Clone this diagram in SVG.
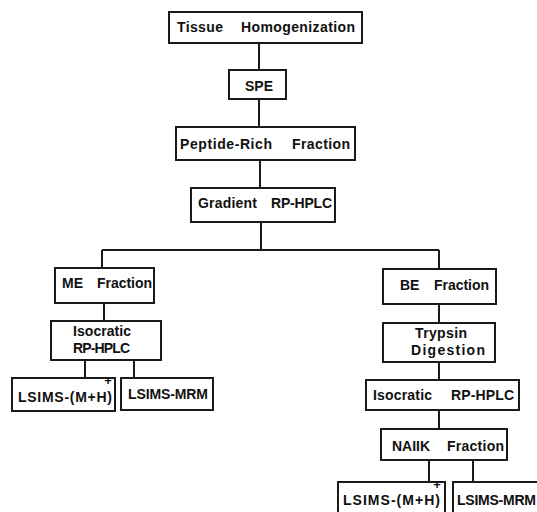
<svg xmlns="http://www.w3.org/2000/svg" width="537" height="512" viewBox="0 0 537 512">
<style>
.box{fill:#fff;stroke:#1a1a1a;stroke-width:2}
.lbl{font-family:"Liberation Sans",Arial,sans-serif;font-weight:bold;font-size:14px;fill:#111}
.sup{font-family:"Liberation Sans",Arial,sans-serif;font-weight:bold;font-size:13px;fill:#111}
.conn{stroke:#1a1a1a;stroke-width:2;fill:none}
</style>
<rect width="537" height="512" fill="#fff"/>
<g id="connectors">
<path class="conn" d="M259 43V70M259 99V127M260 160V188M261 222V250M102 250H439M102 250V268M439 250V269M104 303V321M439 304V323M439 362V380M439 410V429M85 360V378M134 360V378M429 460V482M473 460V482"/>
</g>
<g id="tissue"><rect class="box" x="169" y="12" width="193" height="31"/><text class="lbl" x="177" y="32" textLength="46" lengthAdjust="spacing">Tissue</text><text class="lbl" x="241" y="32" textLength="114" lengthAdjust="spacing">Homogenization</text></g>
<g id="spe"><rect class="box" x="229" y="70" width="57" height="29"/><text class="lbl" x="245" y="90.5">SPE</text></g>
<g id="peptide"><rect class="box" x="176" y="127" width="179" height="33"/><text class="lbl" x="180" y="149" textLength="92" lengthAdjust="spacing">Peptide-Rich</text><text class="lbl" x="292" y="149" textLength="58" lengthAdjust="spacing">Fraction</text></g>
<g id="gradient"><rect class="box" x="191" y="188" width="144" height="34"/><text class="lbl" x="198" y="208" textLength="59" lengthAdjust="spacing">Gradient</text><text class="lbl" x="271" y="208" textLength="61" lengthAdjust="spacing">RP-HPLC</text></g>
<g id="me"><rect class="box" x="55" y="268" width="99" height="35"/><text class="lbl" x="62" y="288">ME</text><text class="lbl" x="97" y="288" textLength="55" lengthAdjust="spacing">Fraction</text></g>
<g id="iso-left"><rect class="box" x="51" y="321" width="110" height="39"/><text class="lbl" x="73" y="336" textLength="58" lengthAdjust="spacing">Isocratic</text><text class="lbl" x="73" y="353" textLength="57" lengthAdjust="spacing">RP-HPLC</text></g>
<g id="lsims-mh-left"><rect class="box" x="12" y="378" width="103" height="33"/><text class="lbl" x="18" y="402" textLength="94" lengthAdjust="spacing">LSIMS-(M+H)</text><text class="sup" x="108" y="385" text-anchor="middle">+</text></g>
<g id="lsims-mrm-left"><rect class="box" x="121" y="378" width="92" height="32"/><text class="lbl" x="128" y="399" textLength="80" lengthAdjust="spacing">LSIMS-MRM</text></g>
<g id="be"><rect class="box" x="383" y="269" width="113" height="35"/><text class="lbl" x="400" y="290">BE</text><text class="lbl" x="434" y="290" textLength="55" lengthAdjust="spacing">Fraction</text></g>
<g id="trypsin"><rect class="box" x="383" y="323" width="112" height="39"/><text class="lbl" x="415" y="338" textLength="52" lengthAdjust="spacing">Trypsin</text><text class="lbl" x="411" y="355" textLength="74" lengthAdjust="spacing">Digestion</text></g>
<g id="iso-right"><rect class="box" x="366" y="380" width="153" height="30"/><text class="lbl" x="373" y="400" textLength="59" lengthAdjust="spacing">Isocratic</text><text class="lbl" x="451" y="400" textLength="63" lengthAdjust="spacing">RP-HPLC</text></g>
<g id="naiik"><rect class="box" x="381" y="429" width="126" height="31"/><text class="lbl" x="392" y="451" textLength="38" lengthAdjust="spacing">NAIIK</text><text class="lbl" x="447" y="451" textLength="57" lengthAdjust="spacing">Fraction</text></g>
<g id="lsims-mh-right"><rect class="box" x="338" y="482" width="107" height="35"/><text class="lbl" x="343" y="505" textLength="97" lengthAdjust="spacing">LSIMS-(M+H)</text><text class="sup" x="437" y="489" text-anchor="middle">+</text></g>
<g id="lsims-mrm-right"><rect class="box" x="453" y="482" width="90" height="35"/><text class="lbl" x="457" y="505" textLength="79" lengthAdjust="spacing">LSIMS-MRM</text></g>
</svg>
